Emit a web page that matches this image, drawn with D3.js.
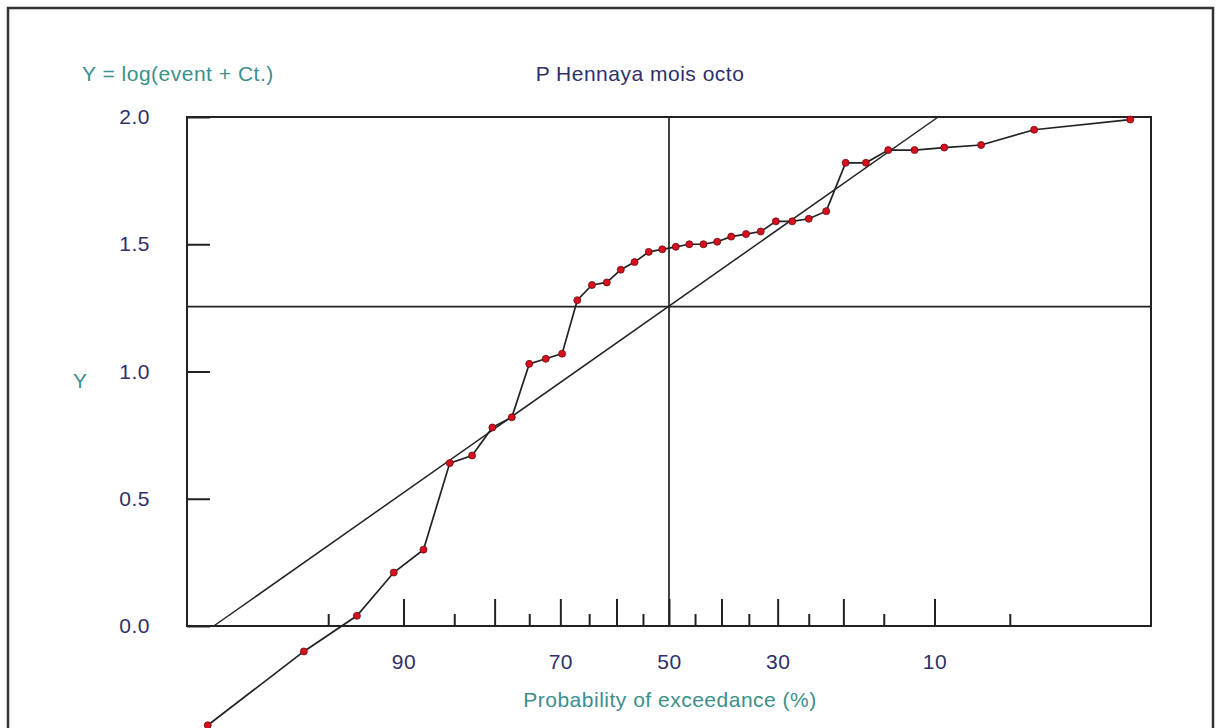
<!DOCTYPE html>
<html>
<head>
<meta charset="utf-8">
<script src="https://cdn.jsdelivr.net/npm/d3@7"></script>
<style>
  body { margin: 0; background: #fff; }
  text { font-family: "Liberation Sans", Arial, sans-serif; letter-spacing: 0.5px; }
</style>
</head>
<body>
<div id="chart"></div>
<script>
// values
const exceedance = [98.7, 96.1, 93.4, 90.8, 88.2, 85.5, 82.9, 80.3, 77.6, 75.0,
  72.4, 69.7, 67.1, 64.5, 61.8, 59.2, 56.6, 53.9, 51.3, 48.7, 46.1, 43.4, 40.8,
  38.2, 35.5, 32.9, 30.3, 27.6, 25.0, 22.4, 19.7, 17.1, 14.5, 11.8, 9.2, 6.6, 3.9, 1.3];
const yValues = [-0.39, -0.10, 0.04, 0.21, 0.30, 0.64, 0.67, 0.78, 0.82, 1.03,
  1.05, 1.07, 1.28, 1.34, 1.35, 1.40, 1.43, 1.47, 1.48, 1.49, 1.50, 1.50, 1.51,
  1.53, 1.54, 1.55, 1.59, 1.59, 1.60, 1.63, 1.82, 1.82, 1.87, 1.87, 1.88, 1.89, 1.95, 1.99];

const fitProb = [98.6, 9.7];
const fitY = [0.0, 2.0];
const medianProb = 50;
const medianY = 1.255;

const majorTicks = [90, 80, 70, 60, 50, 40, 30, 20, 10];
const labelledTicks = [90, 70, 50, 30, 10];
const minorTicks = [95, 85, 75, 65, 55, 45, 35, 25, 15, 5];
const yTicks = [0, 0.5, 1.0, 1.5, 2.0];

const width = 1216;
const height = 728;
const margin = { top: 117, right: 64, bottom: 102, left: 187 };

const teal = "#3b8f8c";
const navy = "#2f2f6a";
const fontSize = 21;

// inverse normal cdf (Acklam)
function probit(p) {
  const a = [-39.69683028665376, 220.9460984245205, -275.9285104469687, 138.3577518672690, -30.66479806614716, 2.506628277459239];
  const b = [-54.47609879822406, 161.5858368580409, -155.6989798598866, 66.80131188771972, -13.28068155288572];
  const c = [-0.007784894002430293, -0.3223964580411365, -2.400758277161838, -2.549732539343734, 4.374664141464968, 2.938163982698783];
  const d = [0.007784695709041462, 0.3224671290700398, 2.445134137142996, 3.754408661907416];
  const pl = 0.02425;
  let q, r;
  if (p < pl) {
    q = Math.sqrt(-2 * Math.log(p));
    return (((((c[0]*q+c[1])*q+c[2])*q+c[3])*q+c[4])*q+c[5]) / ((((d[0]*q+d[1])*q+d[2])*q+d[3])*q+1);
  } else if (p <= 1 - pl) {
    q = p - 0.5; r = q * q;
    return (((((a[0]*r+a[1])*r+a[2])*r+a[3])*r+a[4])*r+a[5])*q / (((((b[0]*r+b[1])*r+b[2])*r+b[3])*r+b[4])*r+1);
  }
  q = Math.sqrt(-2 * Math.log(1 - p));
  return -(((((c[0]*q+c[1])*q+c[2])*q+c[3])*q+c[4])*q+c[5]) / ((((d[0]*q+d[1])*q+d[2])*q+d[3])*q+1);
}

const zScale = d3.scaleLinear()
  .domain([probit(0.01), probit(0.99)])
  .range([margin.left, width - margin.right - 1]);
const xPos = p => zScale(probit(1 - p / 100));

const yScale = d3.scaleLinear()
  .domain([0, 2])
  .range([height - margin.bottom, margin.top]);

const svg = d3.select("#chart")
  .append("svg")
  .attr("width", width)
  .attr("height", height);

// outer frame
svg.append("rect")
  .attr("x", 8)
  .attr("y", 8)
  .attr("width", 1205)
  .attr("height", 740)
  .attr("fill", "#fff")
  .attr("stroke", "#333")
  .attr("stroke-width", 2.5);

// plot box
svg.append("rect")
  .attr("x", margin.left)
  .attr("y", margin.top)
  .attr("width", zScale.range()[1] - margin.left)
  .attr("height", yScale(0) - margin.top)
  .attr("fill", "none")
  .attr("stroke", "#222")
  .attr("stroke-width", 2);

// axes
const xMajor = d3.axisBottom(zScale)
  .tickValues(majorTicks.map(p => probit(1 - p / 100)))
  .tickFormat((d, i) => labelledTicks.includes(majorTicks[i]) ? majorTicks[i] : "")
  .tickSize(-27)
  .tickSizeOuter(0)
  .tickPadding(28);

const xMinor = d3.axisBottom(zScale)
  .tickValues(minorTicks.map(p => probit(1 - p / 100)))
  .tickFormat("")
  .tickSize(-12)
  .tickSizeOuter(0);

const yAxis = d3.axisLeft(yScale)
  .tickValues(yTicks)
  .tickFormat(d3.format(".1f"))
  .tickSize(-23)
  .tickSizeOuter(0)
  .tickPadding(37);

[xMajor, xMinor].forEach(ax => {
  svg.append("g")
    .attr("transform", `translate(0, ${yScale(0)})`)
    .call(ax)
    .call(g => g.select(".domain").remove())
    .call(g => g.selectAll("line").attr("stroke", "#222").attr("stroke-width", 2))
    .call(g => g.selectAll("text").attr("fill", navy).attr("font-size", fontSize));
});

svg.append("g")
  .attr("transform", `translate(${margin.left}, 0)`)
  .call(yAxis)
  .call(g => g.select(".domain").remove())
  .call(g => g.selectAll("line").attr("stroke", "#222").attr("stroke-width", 2))
  .call(g => g.selectAll("text").attr("fill", navy).attr("font-size", fontSize));

// median cross
svg.append("line")
  .attr("x1", margin.left).attr("x2", zScale.range()[1])
  .attr("y1", yScale(medianY)).attr("y2", yScale(medianY))
  .attr("stroke", "#222").attr("stroke-width", 1.7);
svg.append("line")
  .attr("x1", xPos(medianProb)).attr("x2", xPos(medianProb))
  .attr("y1", margin.top).attr("y2", yScale(0))
  .attr("stroke", "#222").attr("stroke-width", 1.7);

// fitted line
const fitData = fitProb.map((p, i) => ({ p, y: fitY[i] }));
svg.append("path")
  .datum(fitData)
  .attr("fill", "none")
  .attr("stroke", "#222")
  .attr("stroke-width", 1.5)
  .attr("d", d3.line().x(d => xPos(d.p)).y(d => yScale(d.y)));

// observed
const obs = exceedance.map((p, i) => ({ p, y: yValues[i] }));
svg.append("path")
  .datum(obs)
  .attr("fill", "none")
  .attr("stroke", "#222")
  .attr("stroke-width", 1.7)
  .attr("d", d3.line().x(d => xPos(d.p)).y(d => yScale(d.y)));

svg.selectAll("circle.pt")
  .data(obs)
  .join("circle")
  .attr("class", "pt")
  .attr("cx", d => xPos(d.p))
  .attr("cy", d => yScale(d.y))
  .attr("r", 3.5)
  .attr("fill", "#d6101e")
  .attr("stroke", "#6a0a10")
  .attr("stroke-width", 0.8);

// texts
svg.append("text")
  .attr("x", 82)
  .attr("y", 81)
  .attr("fill", teal)
  .attr("font-size", fontSize)
  .text("Y = log(event + Ct.)");

svg.append("text")
  .attr("x", 640)
  .attr("y", 81)
  .attr("text-anchor", "middle")
  .attr("fill", navy)
  .attr("font-size", fontSize)
  .text("P Hennaya mois octo");

svg.append("text")
  .attr("x", 73)
  .attr("y", 388)
  .attr("fill", teal)
  .attr("font-size", fontSize)
  .text("Y");

svg.append("text")
  .attr("x", 670)
  .attr("y", 707)
  .attr("text-anchor", "middle")
  .attr("fill", teal)
  .attr("font-size", fontSize)
  .text("Probability of exceedance (%)");
</script>
</body>
</html>
